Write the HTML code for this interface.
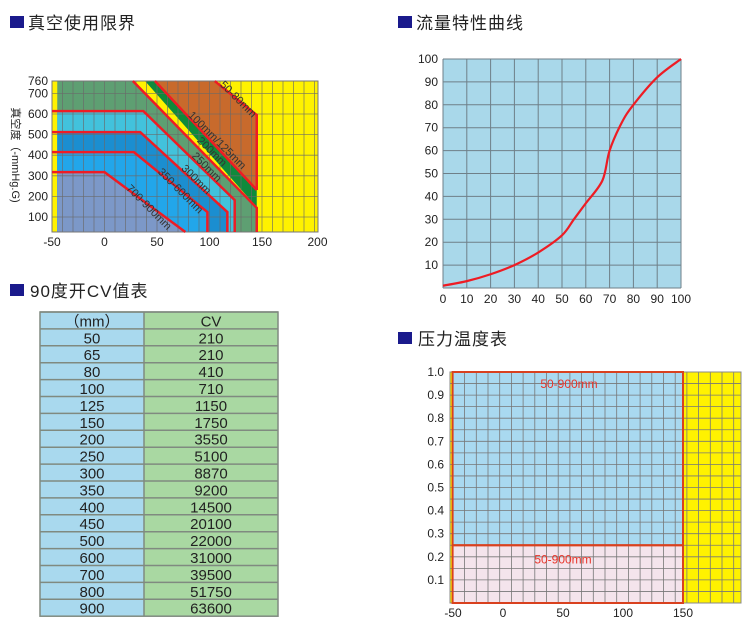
<!DOCTYPE html>
<html><head><meta charset="utf-8"><style>
html,body{margin:0;padding:0;background:#fff;}
svg{display:block;font-family:"Liberation Sans","Noto Sans CJK SC",sans-serif;}
.t{font-size:17px;fill:#222;letter-spacing:1px;}
.ax{font-size:12px;fill:#222;}
</style></head><body>
<svg id="s" width="750" height="638" viewBox="0 0 750 638">
<g><rect x="10" y="16" width="14" height="12" fill="#1a1a8c"/><text class="t" x="28" y="29">真空使用限界</text></g>
<g><rect x="398" y="16" width="14" height="12" fill="#1a1a8c"/><text class="t" x="416" y="29">流量特性曲线</text></g>
<g><rect x="10" y="284" width="14" height="12" fill="#1a1a8c"/><text class="t" x="30" y="297">90度开CV值表</text></g>
<g><rect x="398" y="332" width="14" height="12" fill="#1a1a8c"/><text class="t" x="418" y="345">压力温度表</text></g>
<g id="vac"></g>
<g id="flow"></g>
<g id="cv"></g>
<g id="pt"></g>
</svg>
<script>
// ---- flow curve data ----
const flowX = [0,10,20,30,40,50,55,60,67,70,75,80,90,100];
const flowY = [1,3,6,10,15.5,23,30,37,47,60,72,80,92,100];
const flowTicks = [0,10,20,30,40,50,60,70,80,90,100];
// ---- CV table ----
const cvSizes = ["50","65","80","100","125","150","200","250","300","350","400","450","500","600","700","800","900"];
const cvValues = ["210","210","410","710","1150","1750","3550","5100","8870","9200","14500","20100","22000","31000","39500","51750","63600"];
// ---- vacuum chart ----
const vacXTicks = [-50,0,50,100,150,200];
const vacYTicks = [100,200,300,400,500,600,700,760];
const zoneNames = ["green-200mm","dark-green-100-125mm","orange-50-80mm","cyan-250mm","blue-300mm","bright-blue-350-600mm","slate-700-900mm"];
const zoneColors = ["#5e9f72","#0f8a3c","#c86a2c","#42c2dc","#1b8ed0","#22a6ea","#7c98c8"];
const zonePolys = [
 [[-45,760],[27,760],[145,144],[145,27],[-45,27]],
 [[38.6,760],[48,760],[145,231],[145,148]],
 [[48,760],[105,760],[145,595],[145,231]],
 [[-45,614],[37,614],[124,182],[124,27],[-45,27]],
 [[-45,512],[34,512],[117,124],[117,27],[-45,27]],
 [[-45,415],[28,415],[98,124],[98,27],[-45,27]],
 [[-45,318],[0,318],[77,27],[-45,27]]
];
const redLines = [
 [[27,760],[145,144],[145,27]],
 [[48,760],[145,231]],
 [[105,760],[145,595],[145,231]],
 [[-50,614],[37,614],[124,182],[124,27]],
 [[-50,512],[34,512],[117,124],[117,27]],
 [[-50,415],[28,415],[98,124],[98,27]],
 [[-50,318],[0,318],[77,27]]
];
const zoneLabels = ["50-80mm","100mm/125mm","200mm","250mm","300mm","350-600mm","700-900mm"];
const zoneLabelPos = [[125,660],[105,460],[100,405],[95,330],[85,270],[70,215],[40,135]];
// ---- pressure-temperature ----
const ptXTicks = [-50,0,50,100,150];
const ptYTicks = [0.1,0.2,0.3,0.4,0.5,0.6,0.7,0.8,0.9,1.0];
const ptBlue = [[-42,0.25],[150,1.0]];
const ptPink = [[-42,0],[150,0.25]];
const ptLabels = ["50-900mm","50-900mm"];
const ptLabelPos = [[55,0.93],[50,0.17]];

const NS="http://www.w3.org/2000/svg";
function mk(p,tag,a,txt){const e=document.createElementNS(NS,tag);for(const k in a)e.setAttribute(k,a[k]);if(txt!==undefined)e.textContent=txt;p.appendChild(e);return e;}

// ===== vacuum chart =====
(function(){
 const g=document.getElementById('vac');
 const X=v=>52+(v+50)*1.05, Y=v=>237.6-v*0.206;
 const L=52,R=318,T=81,B=232;
 const bg=mk(g,'rect',{x:L,y:T,width:R-L,height:B-T,fill:'#fff200'});
 
 
 zonePolys.forEach((p,i)=>{
  const e=mk(g,'polygon',{points:p.map(q=>X(q[0])+','+Math.max(T,Y(q[1]))).join(' '),fill:zoneColors[i]});
  
  
 });
 for(let v=-50;v<=215;v+=10){const x=X(v);if(x>R)break;mk(g,'line',{x1:x,y1:T,x2:x,y2:B,stroke:'#6a6a6a','stroke-width':0.8,opacity:0.8});}
 for(let v=0;v<=760;v+=100){const y=Y(v);if(y>B||y<T)continue;mk(g,'line',{x1:L,y1:y,x2:R,y2:y,stroke:'#6a6a6a','stroke-width':0.8,opacity:0.8});}
 mk(g,'rect',{x:L,y:T,width:R-L,height:B-T,fill:'none',stroke:'#777','stroke-width':1});
 redLines.forEach((p,i)=>{
  const e=mk(g,'polyline',{points:p.map(q=>X(q[0])+','+Math.max(T,Y(q[1]))).join(' '),fill:'none',stroke:'#ee1c24','stroke-width':2.5});
  
  
 });
 zoneLabels.forEach((t,i)=>{
  const x=X(zoneLabelPos[i][0]),y=Y(zoneLabelPos[i][1]);
  const e=mk(g,'text',{x:x,y:y,'font-size':11,fill:'#333','text-anchor':'middle',transform:`rotate(45 ${x} ${y})`},t);
  
  
 });
 vacXTicks.forEach(v=>{const e=mk(g,'text',{x:X(v)+(v==200?3:0),y:246,'text-anchor':'middle',class:'ax'},v);
  });
 vacYTicks.forEach(v=>{const e=mk(g,'text',{x:48,y:(v==760?T:Y(v))+4,'text-anchor':'end',class:'ax'},v);
  });
 const at=mk(g,'text',{x:12,y:155,'font-size':11,fill:'#222','text-anchor':'middle',transform:'rotate(90 12 155)'},'真空度（-mmHg.G)');
 
})();

// ===== flow chart =====
(function(){
 const g=document.getElementById('flow');
 const L=443,R=681,T=59,B=288;
 const X=v=>L+v*(R-L)/100, Y=v=>B-v*(B-T)/100;
 const bg=mk(g,'rect',{x:L,y:T,width:R-L,height:B-T,fill:'#a9d8ea'});
 
 flowTicks.forEach(v=>{mk(g,'line',{x1:X(v),y1:T,x2:X(v),y2:B,stroke:'#6f7f88','stroke-width':1});
  mk(g,'line',{x1:L,y1:Y(v),x2:R,y2:Y(v),stroke:'#6f7f88','stroke-width':1});});
 let d='';
 const P=flowX.map((x,i)=>[X(x),Y(flowY[i])]);
 d='M'+P[0][0]+','+P[0][1];
 for(let i=0;i<P.length-1;i++){const p0=P[Math.max(0,i-1)],p1=P[i],p2=P[i+1],p3=P[Math.min(P.length-1,i+2)];
  d+=` C${p1[0]+(p2[0]-p0[0])/6},${p1[1]+(p2[1]-p0[1])/6} ${p2[0]-(p3[0]-p1[0])/6},${p2[1]-(p3[1]-p1[1])/6} ${p2[0]},${p2[1]}`;}
 const c=mk(g,'path',{d:d,fill:'none',stroke:'#ee1c24','stroke-width':2.2});
 
 flowTicks.forEach(v=>{const e=mk(g,'text',{x:X(v),y:B+15,'text-anchor':'middle',class:'ax'},v);
  
  if(v>0){const f=mk(g,'text',{x:438,y:Y(v)+4,'text-anchor':'end',class:'ax'},v);
  }});
})();

// ===== CV table =====
(function(){
 const g=document.getElementById('cv');
 const L=40,M=144,R=278,T=312,H=16.9;
 const rows=[["（mm）","CV"]].concat(cvSizes.map((s,i)=>[s,cvValues[i]]));
 mk(g,'rect',{x:L,y:T,width:M-L,height:H*rows.length,fill:'#a9d9ee'});
 mk(g,'rect',{x:M,y:T,width:R-M,height:H*rows.length,fill:'#a9d8a2'});
 rows.forEach((r,i)=>{
  const y=T+i*H;
  mk(g,'line',{x1:L,y1:y,x2:R,y2:y,stroke:'#808a80','stroke-width':1.5});
  const a=mk(g,'text',{x:(L+M)/2,y:y+H-2.5,'text-anchor':'middle','font-size':15,fill:'#222'},r[0]);
  
  const b=mk(g,'text',{x:(M+R)/2,y:y+H-2.5,'text-anchor':'middle','font-size':15,fill:'#222'},r[1]);
  
 });
 mk(g,'rect',{x:L,y:T,width:R-L,height:H*rows.length,fill:'none',stroke:'#808a80','stroke-width':1.5});
 mk(g,'line',{x1:M,y1:T,x2:M,y2:T+H*rows.length,stroke:'#808a80','stroke-width':1.5});
})();

// ===== pressure-temperature chart =====
(function(){
 const g=document.getElementById('pt');
 const L=450,R=741,T=372,B=603;
 const X=v=>503+v*1.2, Y=v=>B-v*(B-T);
 const bg=mk(g,'rect',{x:L,y:T,width:R-L,height:B-T,fill:'#fff200'});
 
 const bl=mk(g,'rect',{x:X(ptBlue[0][0]),y:Y(ptBlue[1][1]),width:X(ptBlue[1][0])-X(ptBlue[0][0]),height:Y(ptBlue[0][1])-Y(ptBlue[1][1]),fill:'#a9d9f0'});
 
 const pk=mk(g,'rect',{x:X(ptPink[0][0]),y:Y(ptPink[1][1]),width:X(ptPink[1][0])-X(ptPink[0][0]),height:Y(ptPink[0][1])-Y(ptPink[1][1]),fill:'#f4e4ec'});
 
 for(let x=X(-42)+12;x<R;x+=11.7)mk(g,'line',{x1:x,y1:T,x2:x,y2:B,stroke:'#777','stroke-width':0.8});
 for(let v=0.05;v<1;v+=0.05)mk(g,'line',{x1:L,y1:Y(v),x2:R,y2:Y(v),stroke:'#777','stroke-width':0.8});
 mk(g,'rect',{x:L,y:T,width:R-L,height:B-T,fill:'none',stroke:'#888','stroke-width':1});
 mk(g,'rect',{x:X(ptBlue[0][0]),y:Y(ptBlue[1][1]),width:X(ptBlue[1][0])-X(ptBlue[0][0]),height:Y(ptBlue[0][1])-Y(ptBlue[1][1]),fill:'none',stroke:'#d9411f','stroke-width':2});
 mk(g,'rect',{x:X(ptPink[0][0]),y:Y(ptPink[1][1]),width:X(ptPink[1][0])-X(ptPink[0][0]),height:Y(ptPink[0][1])-Y(ptPink[1][1]),fill:'none',stroke:'#d9411f','stroke-width':2});
 ptLabels.forEach((t,i)=>{const e=mk(g,'text',{x:X(ptLabelPos[i][0]),y:Y(ptLabelPos[i][1]),'text-anchor':'middle','font-size':12,fill:'#e8352a'},t);
  });
 ptXTicks.forEach(v=>{const e=mk(g,'text',{x:v==-50?453:X(v),y:617,'text-anchor':'middle',class:'ax'},v);
  });
 ptYTicks.forEach(v=>{const e=mk(g,'text',{x:444,y:Y(v)+4,'text-anchor':'end',class:'ax'},v.toFixed(1));
  });
})();
</script>
</body></html>
